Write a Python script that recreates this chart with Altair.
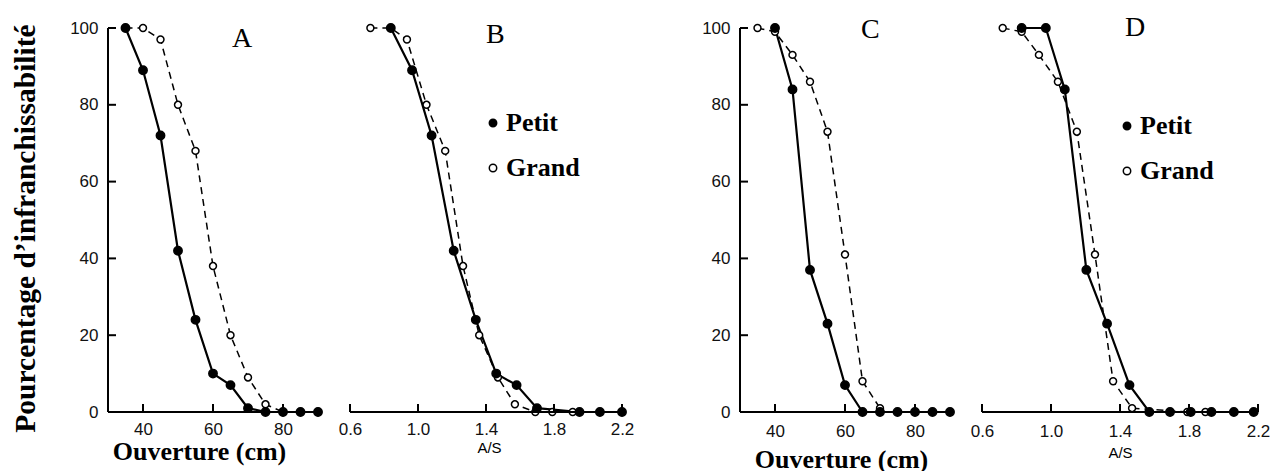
import altair as alt
import pandas as pd

# ---------------- data ----------------
# Panel A : ouverture (cm)
A_open = [35, 40, 45, 50, 55, 60, 65, 70, 75, 80, 85, 90]
A_petit = [100, 89, 72, 42, 24, 10, 7, 1, 0, 0, 0, 0]
A_grand = [100, 100, 97, 80, 68, 38, 20, 9, 2, 0, 0, 0]

# Panel B : A/S
B_petit_as = [0.84, 0.965, 1.08, 1.21, 1.34, 1.46, 1.58, 1.70, 1.95, 2.07, 2.2]
B_petit = [100, 89, 72, 42, 24, 10, 7, 1, 0, 0, 0]
B_grand_as = [0.72, 0.84, 0.935, 1.05, 1.16, 1.265, 1.36, 1.47, 1.57, 1.69, 1.79, 1.91]
B_grand = [100, 100, 97, 80, 68, 38, 20, 9, 2, 0, 0, 0]

# Panel C : ouverture (cm)
C_petit_open = [40, 45, 50, 55, 60, 65, 70, 75, 80, 85, 90]
C_petit = [100, 84, 37, 23, 7, 0, 0, 0, 0, 0, 0]
C_grand_open = [35, 40, 45, 50, 55, 60, 65, 70]
C_grand = [100, 99, 93, 86, 73, 41, 8, 1]

# Panel D : A/S
D_petit_as = [0.83, 0.97, 1.08, 1.205, 1.325, 1.455, 1.57, 1.69, 1.81, 1.93, 2.06, 2.175]
D_petit = [100, 100, 84, 37, 23, 7, 0, 0, 0, 0, 0, 0]
D_grand_as = [0.72, 0.83, 0.93, 1.04, 1.15, 1.255, 1.36, 1.47, 1.79, 1.895]
D_grand = [100, 99, 93, 86, 73, 41, 8, 1, 0, 0]

series = ["Petit", "Grand"]
open_domain = [30, 90]
as_domain = [0.6, 2.2]
y_domain = [0, 100]
open_ticks = [40, 60, 80]
as_ticks = [0.6, 1.0, 1.4, 1.8, 2.2]
y_ticks = [0, 20, 40, 60, 80, 100]
letters = ["A", "B", "C", "D"]

H = 384
SERIF = "Liberation Serif"
SANS = "Liberation Sans"


def frame(gx, gy, px, py):
    rows = [{"x": a, "y": b, "serie": "Grand", "o": i} for i, (a, b) in enumerate(zip(gx, gy))]
    rows += [{"x": a, "y": b, "serie": "Petit", "o": i} for i, (a, b) in enumerate(zip(px, py))]
    return pd.DataFrame(rows)


def x_label_axis(vals, fmt, title, tfont, tsize, tweight, tx, ty, lp):
    return alt.Axis(
        orient="bottom", values=vals, format=fmt, title=title, titleFont=tfont,
        titleFontSize=tsize, titleFontWeight=tweight, titleColor="black",
        titleX=tx, titleY=ty, titleAlign="center", titleBaseline="alphabetic",
        ticks=False, domain=False, labelPadding=lp, labelFlush=False,
    )


def y_label_axis(title):
    kw = dict(orient="left", values=y_ticks, ticks=False, domain=False, labelPadding=10)
    if title:
        kw.update(title=title, titleFont=SERIF, titleFontSize=29.5, titleFontWeight="bold",
                  titleColor="black", titleX=-83, titleY=200, titleAngle=-90,
                  titleAlign="center", titleBaseline="middle")
    else:
        kw.update(title=None)
    return alt.Axis(**kw)


def legend(lx, ly):
    return alt.Legend(
        orient="none", legendX=lx, legendY=ly, title=None, labelFont=SERIF,
        labelFontSize=26, labelFontWeight="bold", labelColor="black",
        symbolType="circle", symbolSize=55, symbolStrokeColor="black",
        symbolStrokeWidth=1.5, rowPadding=19, labelOffset=0, padding=0,
    )


def panel(df, xdom, xticks, width, xlab, ylab, letter, lx, ly, leg):
    xs = alt.Scale(domain=xdom, nice=False, zero=False)
    ys = alt.Scale(domain=y_domain, nice=False)

    def X(field="x:Q"):
        return alt.X(field, scale=xs, axis=xlab)

    def Y(field="y:Q"):
        return alt.Y(field, scale=ys, axis=ylab)

    base = alt.Chart(df)
    grand_line = base.transform_filter(alt.datum.serie == "Grand").mark_line(
        color="black", strokeWidth=1.5, strokeDash=[7, 5]
    ).encode(x=X(), y=Y(), order="o:Q")
    petit_line = base.transform_filter(alt.datum.serie == "Petit").mark_line(
        color="black", strokeWidth=2.2
    ).encode(x=X(), y=Y(), order="o:Q")
    pts = base.mark_point(
        shape="circle", filled=True, stroke="black", strokeWidth=1.5, opacity=1
    ).encode(
        x=X(),
        y=Y(),
        fill=alt.Fill("serie:N", scale=alt.Scale(domain=series, range=["black", "white"]), legend=leg),
        size=alt.condition(alt.datum.serie == "Petit", alt.value(70), alt.value(48)),
    )
    # axis line along the bottom (x domain) and inward ticks
    x_line = alt.Chart(pd.DataFrame({"x": xdom, "y": [y_domain[0]] * 2})).mark_line(
        color="black", strokeWidth=2
    ).encode(x=X(), y=Y())
    x_tk = alt.Chart(pd.DataFrame({"x": xticks, "y": [y_domain[0]] * len(xticks)})).mark_tick(
        color="black", orient="vertical", size=8, thickness=2, yOffset=-4, opacity=1
    ).encode(x=X(), y=Y())
    layers = [x_line, x_tk]
    if ylab is not None:
        y_line = alt.Chart(pd.DataFrame({"x": [xdom[0]] * 2, "y": y_domain})).mark_line(
            color="black", strokeWidth=2
        ).encode(x=X(), y=Y())
        y_tk = alt.Chart(pd.DataFrame({"y": y_ticks, "x": [xdom[0]] * len(y_ticks)})).mark_tick(
            color="black", orient="horizontal", size=8, thickness=2, xOffset=4, opacity=1
        ).encode(x=X(), y=Y())
        layers += [y_line, y_tk]
    label = alt.Chart(pd.DataFrame({"t": [letter]})).mark_text(
        font=SERIF, fontSize=28, fontWeight="normal", color="black",
        align="left", baseline="alphabetic",
    ).encode(text="t:N", x=alt.value(lx), y=alt.value(ly))
    return alt.layer(grand_line, petit_line, pts, *layers, label).properties(width=width, height=H)


pA = panel(frame(A_open, A_grand, A_open, A_petit), open_domain, open_ticks, 210,
           x_label_axis(open_ticks, "d", "Ouverture (cm)", SERIF, 26, "bold", 91, 47, 9),
           y_label_axis("Pourcentage d\u2019infranchissabilité"),
           letters[0], 124, 19, None)
pB = panel(frame(B_grand_as, B_grand, B_petit_as, B_petit), as_domain, as_ticks, 272,
           x_label_axis(as_ticks, ".1f", "A/S", SANS, 15, "normal", 139, 40, 9),
           None, letters[1], 136, 15, legend(130, 82))
pC = panel(frame(C_grand_open, C_grand, C_petit_open, C_petit), open_domain, open_ticks, 210,
           x_label_axis(open_ticks, "d", "Ouverture (cm)", SERIF, 26, "bold", 101, 55, 11),
           y_label_axis(None),
           letters[2], 121, 10, None)
pD = panel(frame(D_grand_as, D_grand, D_petit_as, D_petit), as_domain, as_ticks, 276,
           x_label_axis(as_ticks, ".1f", "A/S", SANS, 15, "normal", 138, 45, 11),
           None, letters[3], 143, 8, legend(132, 85))

spacer = alt.Chart(pd.DataFrame({"v": [0]})).mark_point(opacity=0).encode(
    x=alt.X("v:Q", axis=None), y=alt.Y("v:Q", axis=None)
).properties(width=54, height=H)

chart = alt.hconcat(pA, pB, spacer, pC, pD, spacing=32, bounds="flush").resolve_scale(
    fill="independent", x="independent", y="independent"
).resolve_legend(fill="independent").properties(
    padding={"left": 1, "top": 6, "right": 5, "bottom": 0},
    background="white",
).configure_view(stroke=None).configure_axis(
    labelFont=SANS, labelFontSize=17, labelColor="#111", grid=False,
)

chart.save("out.html", embed_options={"renderer": "svg", "actions": False})
